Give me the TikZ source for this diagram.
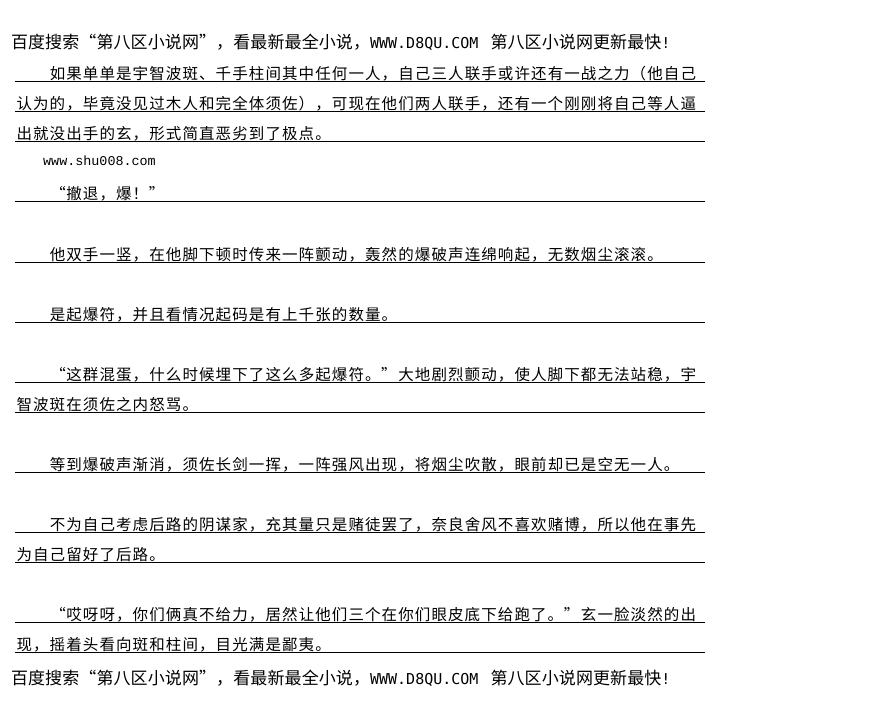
\documentclass[tikz,border=0pt]{standalone}
\usepackage{fontspec}
\newfontfamily\cjk{Noto Sans CJK SC}
\newfontfamily\latmono{DejaVu Sans Mono}
\newfontfamily\sermono{Liberation Mono}
\newlength\cw
\def\cellsend{\cellsend}
\def\cells#1{\cellsi#1\cellsend}
\def\cellsi#1{\ifx#1\cellsend\else\cellone{#1}\expandafter\cellsi\fi}
\def\cellone#1{\ifx#1“\hbox to\cw{\hss#1}\else\ifx#1”\hbox to\cw{#1\hss}\else\hbox to\cw{\hss#1\hss}\fi\fi}
\tikzset{
  bodytxt/.style={anchor=base west,inner sep=0pt,outer sep=0pt,font=\cjk\fontsize{15.5}{16}\selectfont\setlength\cw{16.6pt}},
  headtxt/.style={anchor=base west,inner sep=0pt,outer sep=0pt,font=\cjk\fontsize{17}{18}\selectfont\setlength\cw{17.1pt}},
  rule/.style={line width=1pt,black},
}
\begin{document}
\begin{tikzpicture}[x=1pt,y=-1pt]
\useasboundingbox[fill=white] (0,0) rectangle (874,719);
% header
\node[headtxt] (hd) at (11,49) {\cells{百度搜索“第八区小说网”，看最新最全小说，}{\latmono\fontsize{15}{16}\selectfont WWW.D8QU.COM}\hspace{12pt}\cells{第八区小说网更新最快}{\latmono\fontsize{15}{16}\selectfont !}};
% underlines
\foreach \yy in {82,112,142,202,262,322,382,412,472,532,562,622,652}
  \draw[rule] (15,\yy) -- (705,\yy);
% paragraph 1
\node[bodytxt] (p1a) at (49.2,80) {\cells{如果单单是宇智波斑、千手柱间其中任何一人，自己三人联手或许还有一战之力（他自己}};
\node[bodytxt] (p1b) at (16,110) {\cells{认为的，毕竟没见过木人和完全体须佐），可现在他们两人联手，还有一个刚刚将自己等人逼}};
\node[bodytxt] (p1c) at (16,140) {\cells{出就没出手的玄，形式简直恶劣到了极点。}};
\node[anchor=base west,inner sep=0pt,font=\sermono\fontsize{13.4}{14}\selectfont] (url) at (43,166) {www.shu008.com};
\node[bodytxt] (p2) at (49.2,200) {\cells{“撤退，爆！”}};
\node[bodytxt] (p3) at (49.2,260) {\cells{他双手一竖，在他脚下顿时传来一阵颤动，轰然的爆破声连绵响起，无数烟尘滚滚。}};
\node[bodytxt] (p4) at (49.2,320) {\cells{是起爆符，并且看情况起码是有上千张的数量。}};
\node[bodytxt] (p5a) at (49.2,380) {\cells{“这群混蛋，什么时候埋下了这么多起爆符。”大地剧烈颤动，使人脚下都无法站稳，宇}};
\node[bodytxt] (p5b) at (16,410) {\cells{智波斑在须佐之内怒骂。}};
\node[bodytxt] (p6) at (49.2,470) {\cells{等到爆破声渐消，须佐长剑一挥，一阵强风出现，将烟尘吹散，眼前却已是空无一人。}};
\node[bodytxt] (p7a) at (49.2,530) {\cells{不为自己考虑后路的阴谋家，充其量只是赌徒罢了，奈良舍风不喜欢赌博，所以他在事先}};
\node[bodytxt] (p7b) at (16,560) {\cells{为自己留好了后路。}};
\node[bodytxt] (p8a) at (49.2,620) {\cells{“哎呀呀，你们俩真不给力，居然让他们三个在你们眼皮底下给跑了。”玄一脸淡然的出}};
\node[bodytxt] (p8b) at (16,650) {\cells{现，摇着头看向斑和柱间，目光满是鄙夷。}};
% footer
\node[headtxt] (ft) at (11,684) {\cells{百度搜索“第八区小说网”，看最新最全小说，}{\latmono\fontsize{15}{16}\selectfont WWW.D8QU.COM}\hspace{12pt}\cells{第八区小说网更新最快}{\latmono\fontsize{15}{16}\selectfont !}};
\end{tikzpicture}
\end{document}
